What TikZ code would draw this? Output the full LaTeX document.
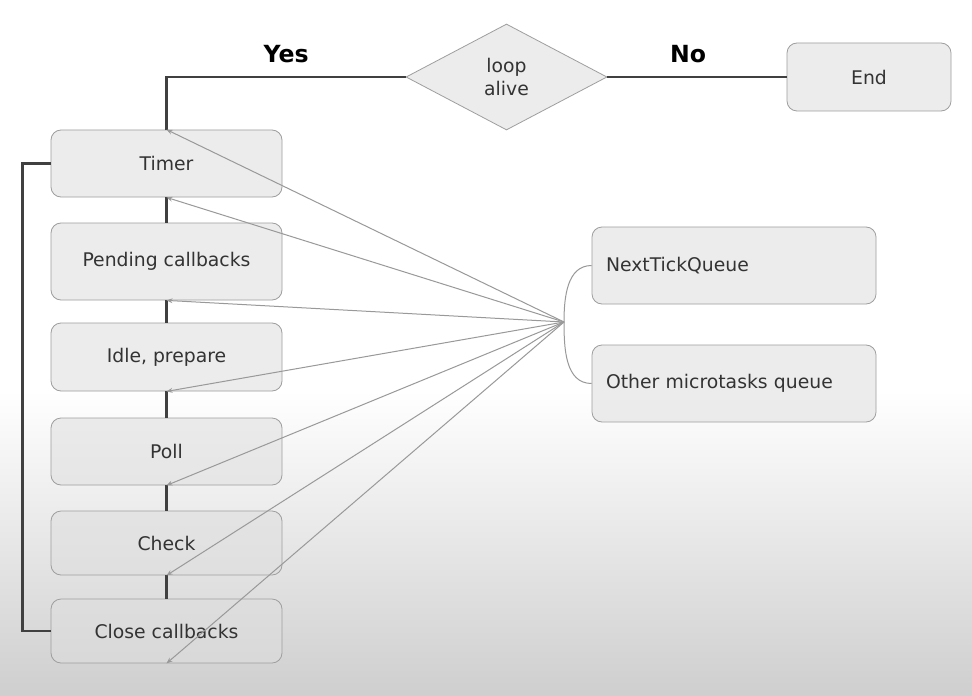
\documentclass[tikz,border=0pt]{standalone}
\usepackage{fontspec}
\setmainfont{DejaVu Sans}
\usetikzlibrary{shapes.geometric,arrows.meta,calc}

\begin{document}
\begin{tikzpicture}[x=0.5pt,y=-0.5pt,font=\fontsize{9.4}{11.5}\selectfont,
    every node/.style={text=black!80},
    phase/.style={draw=black!38,fill=black!13,fill opacity=.55,text opacity=1,rounded corners=5pt,minimum width=115.5pt,inner sep=0pt},
    queue/.style={phase,minimum height=38.5pt,text width=128pt,inner xsep=7pt,align=left},
    decision/.style={diamond,draw=black!38,fill=black!13,fill opacity=.55,text opacity=1,minimum width=100.5pt,minimum height=53pt,inner sep=1pt,align=center},
    flow/.style={draw=black!75,line width=1.4pt},
    micro/.style={draw=black!40,line width=.5pt,-{Stealth[length=3pt,width=2.4pt]}},
    answer/.style={font=\fontsize{11.8}{13}\selectfont\bfseries,text=black}]

  % background
  \fill[white] (0,0) rectangle (972,695);
  \shade[top color=white,bottom color=black!19] (0,390) rectangle (972,695);

  \node[phase,minimum height=33.5pt] (Timer)   at (166.5,163.5) {Timer};
  \node[phase,minimum height=38.5pt] (Pending) at (166.5,261.5) {Pending callbacks};
  \node[phase,minimum height=34pt]   (Idle)    at (166.5,357)   {Idle, prepare};
  \node[phase,minimum height=33.5pt] (Poll)    at (166.5,451.5) {Poll};
  \node[phase,minimum height=32pt]   (Check)   at (166.5,543)   {Check};
  \node[phase,minimum height=32pt]   (Close)   at (166.5,631)   {Close callbacks};

  \node[decision]                              (alive)    at (506.5,77)  {loop\\alive};
  \node[phase,minimum width=82pt,minimum height=34pt] (End) at (869,77)   {End};
  \node[queue]                                 (NextTick) at (734,265.5) {NextTickQueue};
  \node[queue]                                 (Other)    at (734,383.5) {Other microtasks queue};
  \coordinate                                  (fan)      at (564,322);

  \path[flow] (Timer)   edge (Pending)
              (Pending) edge (Idle)
              (Idle)    edge (Poll)
              (Poll)    edge (Check)
              (Check)   edge (Close);

  \draw[flow] (alive.west) -| node[answer,pos=.25,above=3pt] {Yes} (Timer.north);
  \draw[flow] (alive.east) -- node[answer,pos=.45,above=3pt] {No} (End.west);
  \draw[flow] (Close.west) -- ++(-28,0) |- (Timer.west);

  % microtask queues run after every phase
  \draw[black!40,line width=.5pt] (NextTick.west) to[out=180,in=90] (fan) to[out=-90,in=180] (Other.west);
  \foreach \target in {Timer.north,Timer.south,Pending.south,Idle.south,Poll.south,Check.south,Close.south}
    \draw[micro] (fan) -- (\target);
\end{tikzpicture}
\end{document}
